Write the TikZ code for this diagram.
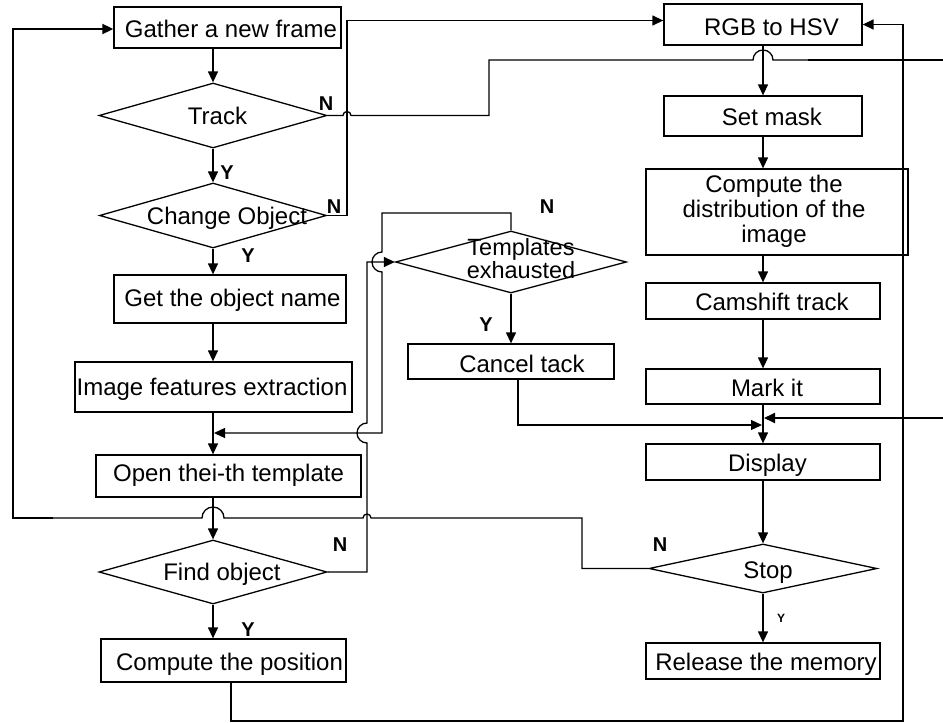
\documentclass[tikz,border=0pt]{standalone}
\usepackage{fontspec}
\setmainfont{Liberation Sans}
\usetikzlibrary{shapes.geometric,arrows.meta}

\tikzset{
  stroke/.style={line width=1.3pt},
  heavy/.style={line width=1.8pt},
  proc/.style={draw, stroke, rectangle, inner sep=0pt},
  decide/.style={draw, stroke, diamond, inner sep=0pt},
  txt/.style={font=\fontsize{24}{26}\selectfont, inner sep=0pt, text height=17pt, text depth=0pt},
  multi/.style={inner sep=0pt, align=center},
  flag/.style={font=\fontsize{20}{20}\selectfont\bfseries, inner sep=0pt},
  tip/.style={-{Triangle[length=11pt,width=10pt]}},
  flow/.style={stroke, tip},
  link/.style={stroke},
}

\begin{document}
\begin{tikzpicture}[x=1pt,y=1pt]
\fill[white] (0,0) rectangle (943,-723);
\useasboundingbox (0,0) rectangle (943,-723);

% ---------- left column ----------
\node[proc, minimum width=227pt, minimum height=41pt] (gather) at (227.5,-27.5) {};
\node[txt] (gatherT) at (231,-29) {Gather a new frame};

\node[decide, minimum width=228pt, minimum height=65pt] (track) at (213,-115.5) {};
\node[txt] (trackT) at (217.5,-116) {Track};

\node[decide, minimum width=227pt, minimum height=65pt] (change) at (213,-215.5) {};
\node[txt] (changeT) at (227,-215.5) {Change Object};

\node[proc, minimum width=232pt, minimum height=48pt] (get) at (230,-299) {};
\node[txt] (getT) at (232.5,-298) {Get the object name};

\node[proc, minimum width=277pt, minimum height=50pt] (feat) at (213.5,-387) {};
\node[txt] (featT) at (212,-387) {Image features extraction};

\node[proc, minimum width=265pt, minimum height=42pt] (open) at (228.5,-476) {};
\node[txt] (openT) at (228.5,-473) {Open thei-th template};

\node[decide, minimum width=228pt, minimum height=64pt] (find) at (213,-572) {};
\node[txt] (findT) at (222,-571.5) {Find object};

\node[proc, minimum width=245pt, minimum height=43pt] (comp) at (223.5,-660.5) {};
\node[txt] (compT) at (229.5,-661.5) {Compute the position};

% ---------- middle ----------
\node[decide, minimum width=231pt, minimum height=62pt] (tmpl) at (511,-262) {};
\node[multi, font=\fontsize{23.5}{17}\selectfont] (tmplT) at (521,-259) {Templates\\exhausted};

\node[proc, minimum width=206pt, minimum height=35pt] (cancel) at (511,-361.5) {};
\node[txt] (cancelT) at (522,-363.5) {Cancel tack};

% ---------- right column ----------
\node[proc, minimum width=198pt, minimum height=41pt] (rgb) at (763,-24.5) {};
\node[txt] (rgbT) at (771.5,-26.5) {RGB to HSV};

\node[proc, minimum width=198pt, minimum height=40pt] (mask) at (763,-116) {};
\node[txt] (maskT) at (772,-116.5) {Set mask};

\node[proc, minimum width=262pt, minimum height=86pt] (dist) at (777,-212) {};
\node[multi, font=\fontsize{24}{25}\selectfont] (distT) at (774,-211) {Compute the\\distribution of the\\image};

\node[proc, minimum width=234pt, minimum height=36pt] (cam) at (763,-301) {};
\node[txt] (camT) at (772,-302) {Camshift track};

\node[proc, minimum width=234pt, minimum height=35pt] (mark) at (763,-386.5) {};
\node[txt] (markT) at (767,-388) {Mark it};

\node[proc, minimum width=234pt, minimum height=36pt] (disp) at (763,-462) {};
\node[txt] (dispT) at (767.5,-463) {Display};

\node[decide, minimum width=228pt, minimum height=49pt] (stop) at (763,-568.5) {};
\node[txt] (stopT) at (768,-570) {Stop};

\node[proc, minimum width=234pt, minimum height=36pt] (rel) at (763,-661) {};
\node[txt] (relT) at (766,-662) {Release the memory};

% ---------- branch labels ----------
\node[flag] (nTrack) at (326,-104) {N};
\node[flag] (yTrack) at (227,-173) {Y};
\node[flag] (nChange) at (334,-207) {N};
\node[flag] (yChange) at (248,-256) {Y};
\node[flag] (nTmpl) at (547,-207) {N};
\node[flag] (yTmpl) at (486,-325) {Y};
\node[flag] (nFind) at (340,-545) {N};
\node[flag] (yFind) at (248,-630) {Y};
\node[flag] (nStop) at (660,-545) {N};
\node[font=\fontsize{12}{12}\selectfont\bfseries, inner sep=0pt] (yStop) at (781,-618) {Y};

% ---------- junctions and page-edge ends ----------
\coordinate (hubL) at (214,-433);
\coordinate (hubC) at (762,-425);
\coordinate (hubE) at (764,-418);
\coordinate (edgeA) at (943,-60);
\coordinate (edgeB) at (943,-418);

% ---------- main flow, left ----------
\draw[flow] (gather.south -| track.north) -- (track.north);
\draw[flow] (track.south) -- (change.north);
\draw[flow] (change.south) -- (get.north -| change.south);
\draw[flow] (get.south -| change.south) -- (feat.north -| change.south);
\draw[flow] (feat.south -| change.south) -- (open.north -| change.south);
\draw[flow] (open.south -| find.north) -- (find.north);
\draw[flow] (find.south) -- (comp.north -| find.south);

% ---------- main flow, right ----------
\draw[flow] (rgb.south) -- (mask.north);
\draw[flow] (mask.south) -- (dist.north -| mask.south);
\draw[flow] (dist.south -| mask.south) -- (cam.north);
\draw[flow] (cam.south) -- (mark.north);
\draw[flow] (mark.south) -- (disp.north);
\draw[flow] (disp.south) -- (stop.north);
\draw[flow] (stop.south) -- (rel.north);
\draw[flow] (tmpl.south) -- (cancel.north -| tmpl.south);

% Track: N leaves towards the page edge
\draw[link] (track.east) -- (343,-115.5) arc[start angle=180, end angle=0, radius=4pt]
  -- (489,-115.5) -- (489,-60) -- (753,-60) arc[start angle=180, end angle=0, radius=10pt]
  -- (808,-60);
\draw[heavy] (808,-60) -- (edgeA);
% incoming from the page edge
\draw[heavy, tip] (edgeB) -- (hubE);

% Change Object: N goes to RGB to HSV
\draw[flow] (change.east) -- (347,-215.5) -- (347,-20.5) -- ([yshift=4pt]rgb.west);

% Cancel tack joins before Display
\draw[flow] ([xshift=7pt]cancel.south) -- (518,-425) -- (hubC);

% Find object: N tries the templates check
\draw[flow] (find.east) -- (367,-572) -- (367,-443)
  arc[start angle=270, end angle=90, radius=10pt] -- (367,-262) -- (tmpl.west);

% Templates exhausted: N opens the next template
\draw[flow] (tmpl.north) -- (511,-213) -- (382,-213) -- (382,-252)
  arc[start angle=90, end angle=270, radius=10pt] -- (382,-433) -- (hubL);

% Stop: N loops back to a new frame
\draw[link] (stop.west) -- (582,-568.5) -- (582,-518) -- (371,-518)
  arc[start angle=0, end angle=180, radius=4pt] -- (224,-518)
  arc[start angle=0, end angle=180, radius=11pt] -- (53,-518);
\draw[heavy, tip] (53,-518) -- (13,-518) -- (13,-29) -- ([yshift=-1.5pt]gather.west);

% Compute the position feeds RGB to HSV
\draw[line width=1.5pt, tip] ([xshift=7.5pt]comp.south) -- (231,-721) -- (903,-721)
  -- (903,-24.5) -- (rgb.east);

\end{tikzpicture}
\end{document}
